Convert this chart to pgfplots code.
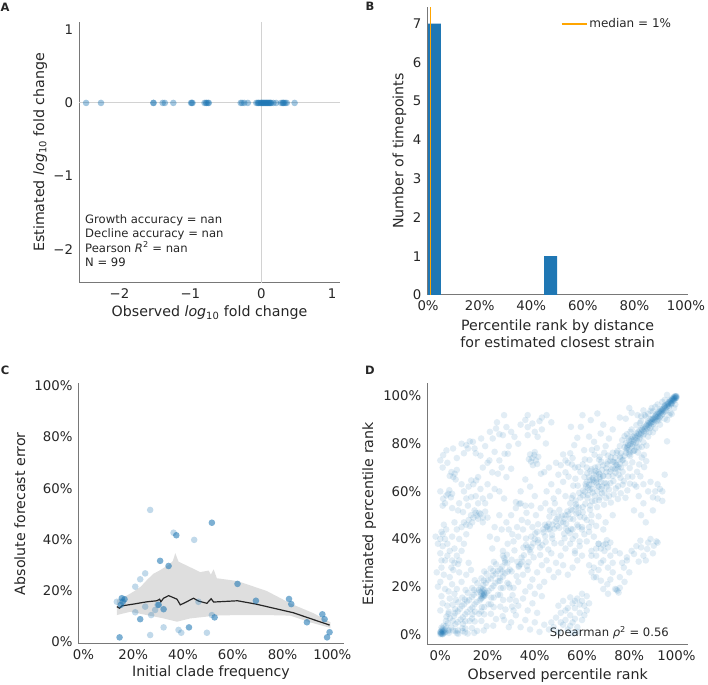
\documentclass[border=0pt]{standalone}
\usepackage{fontspec}
\setmainfont{DejaVu Sans}
\usepackage{pgfplots}
\pgfplotsset{compat=1.18}

\definecolor{c0}{RGB}{31,119,180}
\definecolor{txt}{RGB}{38,38,38}
\definecolor{spine}{RGB}{120,120,120}
\definecolor{refl}{RGB}{210,210,210}
\definecolor{band}{RGB}{222,222,222}
\definecolor{medc}{RGB}{255,165,0}

\newcommand{\tk}{\fontsize{13.3}{15}\selectfont}
\newcommand{\lb}{\fontsize{14.2}{16.5}\selectfont}
\newcommand{\an}{\fontsize{11.6}{14.3}\selectfont}

\pgfplotsset{
  panel/.style={
    scale only axis,
    anchor=south west,
    axis lines*=left,
    axis line style={draw=spine, line width=1pt, -},
    major tick length=0pt,
    tick label style={font=\tk, text=txt},
    xticklabel style={yshift=-2.5pt},
    yticklabel style={xshift=-2.5pt},
    label style={font=\lb, text=txt},
    /pgf/number format/assume math mode=true,
  },
  pct/.style={xtick={0,20,...,100}, xticklabels={0\%,20\%,40\%,60\%,80\%,100\%}},
  pcty/.style={ytick={0,20,...,100}, yticklabels={0\%,20\%,40\%,60\%,80\%,100\%}},
  dots/.style={only marks, mark=*, mark size=3.3pt,
    mark options={draw=c0, fill=c0, draw opacity=0, fill opacity=#1}},
}

\begin{document}
\begin{tikzpicture}
\path[use as bounding box] (0,0) rectangle (708pt,684pt);

% panel letters
\node[font=\bfseries\fontsize{11.5}{13}\selectfont, text=txt] at (5pt,677pt) {A};
\node[font=\bfseries\fontsize{11.5}{13}\selectfont, text=txt] at (370pt,678pt) {B};
\node[font=\bfseries\fontsize{11.5}{13}\selectfont, text=txt] at (5pt,314pt) {C};
\node[font=\bfseries\fontsize{11.5}{13}\selectfont, text=txt] at (370pt,314pt) {D};

% ---------------- A
\begin{axis}[panel, at={(79pt,401pt)}, width=261pt, height=261.3pt,
  xmin=-2.57, xmax=1.11, ymin=-2.46, ymax=1.11,
  xtick={-2,-1,0,1}, xticklabels={−2,−1,0,1},
  ytick={-2,-1,0,1}, yticklabels={−2,−1,0,1},
  xlabel={Observed \textit{log}\textsubscript{10} fold change},
  ylabel={Estimated \textit{log}\textsubscript{10} fold change},
  xlabel style={at={(axis description cs:0.5,-0.115)}, anchor=center},
  ylabel style={at={(axis description cs:-0.149,0.5)}, anchor=center},
]
\addplot[refl, line width=1pt] coordinates {(0,-2.46) (0,1.11)};
\addplot[refl, line width=1pt] coordinates {(-2.57,0) (1.11,0)};
\addplot[dots=0.42] coordinates {
  (-2.47,0)(-2.26,0)(-1.52,0)(-1.52,0)(-1.39,0)(-1.36,0)(-1.24,0)
  (-0.99,0)(-0.98,0)(-0.97,0)(-0.80,0)(-0.78,0)(-0.77,0)(-0.75,0)(-0.74,0)
  (-0.29,0)(-0.27,0)(-0.24,0)(-0.19,0)(-0.07,0)(-0.05,0)(-0.04,0)(-0.03,0)
  (-0.01,0)(0.00,0)(0.01,0)(0.02,0)(0.03,0)(0.04,0)(0.05,0)(0.06,0)(0.07,0)
  (0.08,0)(0.09,0)(0.10,0)(0.11,0)(0.12,0)(0.13,0)(0.14,0)(0.17,0)(0.21,0)
  (0.28,0)(0.30,0)(0.31,0)(0.32,0)(0.34,0)(0.36,0)(0.47,0)
};
\node[font=\an, text=txt, align=left, anchor=north west, inner sep=0pt]
  at (axis description cs:0.023,0.262)
  {Growth accuracy = nan\\Decline accuracy = nan\\Pearson \textit{R}\textsuperscript{2} = nan\\N = 99};
\end{axis}

% ---------------- B
\begin{axis}[panel, at={(427.3pt,389pt)}, width=260.7pt, height=288pt,
  xmin=-0.3, xmax=100.8, ymin=0, ymax=7.43,
  pct, ytick={0,...,7},
  ylabel={Number of timepoints},
  xlabel={Percentile rank by distance\\for estimated closest strain},
  xlabel style={align=center, at={(axis description cs:0.5,-0.135)}, anchor=center},
  ylabel style={at={(axis description cs:-0.107,0.5)}, anchor=center},
  legend style={draw=none, fill=none, font=\fontsize{12}{14}\selectfont, text=txt,
    at={(axis description cs:0.50,0.941)}, anchor=west},
  legend cell align=left,
  legend image code/.code={\draw[#1] (0pt,0pt) -- (25pt,0pt);},
]
\addplot[ybar, bar width=5, bar shift=0pt, fill=c0, draw=none, forget plot]
  coordinates {(2.5,7) (47.5,1)};
\addplot[medc, line width=1.5pt] coordinates {(1,0) (1,7.43)};
\addlegendentry{median = 1\%}
\end{axis}

% ---------------- C
\begin{axis}[panel, at={(78.5pt,40pt)}, width=265pt, height=260.7pt,
  xmin=-2, xmax=104.5, ymin=-0.9, ymax=101,
  pct, pcty,
  xlabel={Initial clade frequency},
  ylabel={Absolute forecast error},
  xlabel style={at={(axis description cs:0.5,-0.111)}, anchor=center},
  ylabel style={at={(axis description cs:-0.221,0.5)}, anchor=center},
]
\addplot[fill=band, draw=none] coordinates {
  (13.4,16.3)(17,17.8)(20,19.5)(23,21.5)(25.5,24.1)(28,26.5)(30.5,27.8)(34.2,30.0)
  (35.9,31.5)(36.9,34.6)(38.2,31.3)(42.9,29.1)(46.9,27.2)(50.3,27.8)(51.2,26.2)
  (52.3,28.3)(53.6,24.8)(61.9,23.7)(73.7,19.8)(83.5,14.8)(92.5,11.1)(99.2,7.6)
  (99.2,5.4)(91,7.6)(83.1,10.2)(73.7,10.4)(61.9,10.4)(52.3,10.2)(49.6,9.8)
  (42.9,9.1)(37.6,7.8)(32.2,9.1)(25.5,10.4)(18.8,11.7)(13.4,10.4)
};
\addplot[dots=0.28] coordinates {
  (26.8,51.5)(36.2,42.6)(44.5,39.8)(24.8,26.7)(22.8,24.4)(20.8,21.5)(13.4,15.6)
  (24.8,13.7)(20.8,11.5)(29.8,14.4)(27.2,10.4)(32.2,5.6)(26.8,2.6)(38.2,4.6)
  (39.3,3.5)(49.6,3.5)(51.6,10.4)(46.2,15.6)(28.8,12.4)
};
\addplot[dots=0.58] coordinates {
  (51.6,46.5)(37.3,41.6)(30.8,31.6)(34.2,29.6)(16.5,16.6)(15.8,15.6)(15.0,14.4)
  (15.4,17.0)(32.2,12.7)(22.8,8.8)(14.5,1.7)(42.4,5.6)(52.7,9.5)(30.2,14.4)
  (61.9,22.6)(69.3,16.0)(82.6,16.7)(83.5,14.7)(89.8,7.6)(96.0,10.7)(96.9,8.8)
  (98.9,3.7)(97.9,1.7)
};
\addplot[black!85, line width=1.2pt] coordinates {
  (13.4,13.7)(14.5,13.1)(15.4,14.0)(20.1,14.7)(25.5,15.6)(29.5,16.0)(30.6,16.6)
  (31.1,15.6)(32.2,17.0)(34.2,18.0)(36.2,17.2)(37.6,16.6)(38.9,14.4)(40.9,15.3)
  (44.2,17.0)(46.2,15.9)(49.6,15.0)(51.3,16.8)(52.3,15.5)(61.9,16.0)(69.3,14.7)
  (84.4,11.3)(89.8,9.5)(98.9,6.5)
};
\end{axis}

% ---------------- D
\begin{axis}[panel, at={(427.3pt,39pt)}, width=261pt, height=262pt,
  xmin=-5.5, xmax=105, ymin=-4.5, ymax=105.5,
  pct, pcty,
  xlabel={Observed percentile rank},
  ylabel={Estimated percentile rank},
  xlabel style={at={(axis description cs:0.5,-0.115)}, anchor=center},
  ylabel style={at={(axis description cs:-0.223,0.5)}, anchor=center},
]
\addplot[dots=0.13] coordinates {
  % top diagonal
  (100,100)(99.5,99.8)(99,99.4)(98.6,98.9)(99.2,98.2)(98,98.5)(97.5,97.9)(97,97.6)
  (97.8,96.5)(96.5,96.9)(96,96.4)(95.5,96.3)(96.8,95.2)(95,95.6)(94.5,94.8)(95.7,94)
  (94,94.6)(93.5,93.2)(93,93.8)(94.2,92.5)(92.5,93)(92,92.4)(91.5,92.6)(92.8,91)
  (91,91.5)(90.5,90.8)(91.6,89.6)(90,90.6)(89.5,89.8)(89,90.2)(90.3,88.4)(88.5,88.8)
  (88,89.3)(87.5,87.9)(88.8,86.6)(87,87.5)(86.5,86.2)(86,87)(87.2,85.2)(85.5,85.8)
  (85,84.6)(84.5,85.7)(85.8,83.4)(84,84.2)(83.5,83.3)(83,84.4)(84.3,82)(82.5,82.8)
  (82,81.6)(81.5,82.9)(82.8,80.3)(81,81.2)(80.5,80)(80,81.4)(81.2,78.9)(79.5,79.6)
  (79,78.2)(78.5,80.2)(79.8,77.3)(78,78.6)
  (99.8,99.2)(99.3,100)(98.8,99.6)(98.3,98)(97.2,98.4)(96.6,97.4)(97.9,97)(96.2,95.8)
  (95.3,95)(94.8,96)(93.8,93.7)(93.2,94.5)(94.6,93.4)(92.2,91.7)(91.3,92)(90.8,90)
  (89.8,89.2)(89.2,88.5)(88.2,87.4)(87.8,88.6)(86.8,86.8)(86.2,85.2)(85.2,86.4)(84.8,84)
  (83.8,85)(83.2,82.4)(82.2,83.4)(81.8,80.8)(80.8,82)(80.2,79.3)
  (99.6,99.5)(99.1,99)(98.4,98.6)(97.7,98)(97.3,97.2)(96.4,96.6)(95.9,95.3)(95.1,95.9)
  (94.3,94.2)(93.6,94)(92.9,92.7)(92.4,93.4)(91.8,91.2)(91.2,91.1)(90.2,90.3)(89.6,90.5)
  (89,89)(88.4,88)(99.9,99.7)(99.4,99.1)(98.9,98.7)(98.2,99.1)(100,99.3)(99.7,100)
  (97,92)(95,90.5)(99,95)(93,88)(91,86.4)(96,100.5)(92,96.5)(89,93.8)(87,91.5)(90,84.8)
  (88,83)(85,89.5)(86,80.6)(84,78.5)(83,87.8)(81,86)(82,77)(80,75.5)(79,84)(77,81.5)
  (78,75)(76,79)(77,73)(75,77)(74,74.2)(76,71.5)(73,76.2)(72,72.8)(75,69.5)(71,75)
  (97.5,93)(99.5,96.5)(94,97.6)(92.5,89.8)(89.5,95)(86.5,92)(88.5,84.8)(84.5,88.7)
  (83.5,81)(80.5,85)(79.5,82.5)(81.5,76.8)(78,83.2)(76.5,76)(74.5,72)
  (76,91)(78.5,90.5)(81,93)(83.5,92)(85,91.5)(80,95)(86,94)(88,92.5)(90,93.5)(93,91.5)
  (96,90)(98,92.5)(91,95.5)(95,98.4)(96,81)(95,67)(92,63)(93,61)(92,57)(94,60)(90,57.5)
  (66.5,92.7)(63.7,89.9)(60.2,92)(59.5,87.1)(55.3,87.1)(67.9,84.3)(71.4,82.2)(65.1,80.8)
  (60.9,77.3)(56.7,79.4)(69,88)(73,86)(70,79)(63,83)(58,82.5)
  (55.6,57.2)(57.3,56.1)(58.8,59.4)(60.4,58.3)(61.7,62.1)(63.2,60.6)(64.6,64.8)
  (66.1,63.7)(67.4,67.2)(68.9,66.4)(70.3,69.8)(71.8,68.2)(73.2,72.4)(74.6,71.1)
  (76.1,74.6)(77.4,73.3)(78.8,77.6)(80.2,76.4)(81.6,79.7)(83.1,78.6)(84.4,82.6)
  (86.2,84.1)(87.6,86.3)(89.3,87.2)(90.6,89.1)(92.3,90.4)(93.7,92.1)(95.2,93.6)
  (96.8,95.9)(98.1,97.2)(98.8,98.1)(97.6,96.8)
  % middle-upper cloud
  (62,64)(63,66)(64,63)(65,67)(66,65)(67,68)(68,64)(63.5,68.5)(65.5,70)(64.5,65.5)
  (66.5,62.5)(67.5,66)(62.5,61.5)(68.5,69)(69,66.5)(61,66)(63,62.8)(65,64.2)(66,67.5)
  (64,69.3)(67,62)(69.5,63.5)(61.5,63)(62.2,67.6)(68.2,61)(66.8,70.4)(64.3,61)
  (65.8,68.6)(63.3,64.7)(67.3,65.2)
  (55.3,52.4)(57.4,54.6)(56.2,58.3)(58.6,53.2)(59.3,57.4)(60.4,60.3)(58.2,62.4)
  (57.6,50.7)(60.3,51.2)(61.4,54.8)(62.3,57.2)(61.2,59.7)(63.4,52.3)(64.2,55.8)
  (65.3,58.2)(66.4,53.4)(67.2,56.3)(68.4,59.2)(69.3,54.4)(70.2,57.2)(71.4,60.8)
  (72.2,55.3)(73.4,58.7)(74.3,61.2)(75.2,56.8)(76.4,59.2)(77.2,62.8)(78.4,57.3)
  (79.2,60.4)(80.3,63.2)(70.4,63.3)(71.2,66.4)(72.4,69.2)(73.3,64.3)(74.2,67.8)
  (75.4,70.2)(76.3,65.7)(77.2,68.2)(78.3,71.8)(79.4,66.2)(80.2,69.8)(81.3,72.2)
  (70.7,71.4)(72.3,74.3)(74.7,76.2)(76.3,73.8)(78.6,76.2)(80.4,74.8)(82.3,77.2)
  (79.3,78.8)(60.3,71.3)(61.2,73.4)(59.3,68.2)(57.2,65.3)(58.4,70.2)(56.3,62.4)
  (54.3,66.2)(55.7,71.3)(63.2,73.2)(65.3,75.4)(67.2,73.3)(69.4,76.2)(68.2,72.4)
  (66.3,78.2)(64.2,77.4)(70.3,68.2)(73.7,72.3)(75.3,62.2)(77.7,64.3)(81.3,66.2)
  (82.2,62.8)(83.3,68.2)(84.2,71.3)(85.3,74.2)(86.2,75.3)(84.7,66.3)(86.3,70.2)
  (87.2,72.7)(83.7,76.3)(85.3,78.7)(87.3,79.2)
  (62.5,58.5)(64.5,59.5)(66.5,60)(68.5,62)(70.5,62)(72,63.5)(73,66.5)(74,69.5)(75.5,67)
  (76.5,70)(71.5,58)(69.5,59.5)(67.5,57.5)(65.5,56)(63.5,54)(71,72.5)(73,70)(69,71)
  (67.5,74.5)(62,70)
  (52,47)(55,48.5)(58,46)(61,49)(64,47)(67,49.5)(70,47)(73,50)(60,45)(63,43)(66,45.5)
  (69,44)(56,44)(53,50)(56,40)(59,37)(62,39)(65,41)(60,33)(64,35)(67,38)(57,34)
  % central band
  (25.3,22.4)(26.2,26.3)(27.4,30.2)(28.2,33.4)(29.4,27.2)(30.2,31.3)(31.4,35.2)
  (32.3,24.4)(33.2,28.3)(34.4,32.2)(35.2,36.4)(36.3,40.2)(37.4,30.3)(38.2,34.4)
  (39.3,38.2)(40.2,42.4)(41.4,46.2)(42.3,33.3)(43.2,37.4)(44.4,41.2)(45.3,45.3)
  (46.2,49.4)(47.4,40.2)(48.2,44.3)(49.3,48.4)(50.4,52.2)(51.2,38.3)(52.4,42.2)
  (53.3,46.4)(54.2,50.3)(55.4,44.2)(56.3,48.3)(57.2,41.4)(58.4,45.2)(59.2,49.3)
  (60.3,53.4)
  (26.5,35)(28.5,38)(30.5,42)(32.5,45)(34.5,48)(36.5,51)(38.5,54)(40.5,50)(42.5,53)
  (44.5,55)(46.5,52)(48.5,55)(29,21)(31,19.5)(33,22)(35,25)(37,27)(39,23)(41,26)(43,29)
  (45,31)(47,34)(49,30)(51,33)(53,36)(55,38)(57,35)(59,39)(61,42)(63,45)(62,48)(64,50)
  (60,44)(58,31)(56,28)(54,25)(52,29)(50,26)(48,24)(46,27)(44,22)(42,20)
  (27,32)(27.5,31)(26.5,33)(37,36.5)(36.3,37.5)(37.8,35.5)(45,45)(45.8,44)(44.3,46)
  (54,43.5)(53.2,44.5)(54.8,42.5)(34,29.5)(34.8,30.5)(33.3,28.8)(46,46.5)(43.5,44)
  (47.5,46)(40,40)(41.5,38.5)(38.5,41)(51,47)(49.5,45.5)(52.5,48.5)(56,52)(57.5,53.5)
  (58.5,51)(55,55)(50,49.5)(48,51)
  (35.4,33.2)(38.6,36.7)(41.3,39.6)(43.7,42.8)(46.4,44.1)(48.8,47.3)(51.5,49.8)
  (53.8,51.6)(42.2,36.4)(44.6,38.8)(47.3,41.7)(39.5,32.3)(36.7,28.6)(32.6,30.4)
  (30.2,26.4)(28.4,29.8)(50.4,44.7)(52.6,40.3)(48.3,38.2)(45.7,35.6)
  (22,36)(24,40)(23,45)(26,44)(28,47)(25,50)(30,50)(32,53)(34,55)(29,44)(31,39)(33,41)
  (35,44)(37,47)(39,45)(41,43)(36,54)(21,41)
  % lower-left band
  (0,0)(0.5,0.5)(1,1)(0.3,1.2)(1.2,0.3)(0.8,0.1)(0.1,0.8)(1.5,1.5)(0.6,1.8)(1.8,0.6)
  (2,2)(0.2,0.4)(1,0)(0,1)(0.4,0.2)(1.3,1)(0.9,1.4)(2.2,1)(1,2.4)(0.5,2.8)
  (2.3,3.4)(3.6,1.8)(3.1,4.6)(4.7,2.9)(5.2,5.6)(4.1,6.8)(6.4,4.3)(5.8,7.7)(7.3,5.1)
  (6.2,8.9)(8.6,6.2)(7.4,9.6)(9.5,7.1)(8.3,10.7)(10.6,8.4)(9.2,11.9)(11.4,9.3)
  (10.1,12.6)(12.7,10.5)(11.3,13.8)(13.6,11.2)(12.2,14.4)(14.5,12.6)(13.4,15.7)
  (15.3,13.5)(14.1,16.6)(16.7,14.2)(15.4,17.5)(17.2,14.9)(16.3,18.6)(18.5,16.3)
  (17.1,19.4)(19.6,17.4)(18.2,20.7)(20.4,18.2)(19.3,21.5)(21.7,19.4)(20.1,22.8)
  (22.5,20.3)(21.4,23.4)(23.3,21.6)(22.2,24.7)(24.6,22.3)(23.5,25.4)(25.2,23.7)
  (24.3,26.6)(26.5,24.2)(25.4,27.3)(27.3,25.6)(26.2,28.5)(28.6,26.3)
  (17.5,17)(18,16.5)(18.5,17.5)(17.8,18.2)(18.2,15.8)(17.2,16)(18.8,18.5)(17,17.8)
  (19,16.2)(18,19)(17.6,15.2)(18.6,16.8)
  (3.4,8.6)(5.2,12.4)(6.6,14.5)(9.3,15.4)(10.7,18.6)(13.5,19.4)(14.6,22.7)(17.4,23.5)
  (18.6,26.4)(21.3,27.6)(22.7,30.4)(9.4,2.6)(10.6,5.5)(13.4,6.6)(14.7,9.5)(17.3,9.6)
  (18.6,11.4)(21.4,12.6)(22.6,15.4)(25.3,16.5)(26.6,19.5)(29.4,19.6)(6.3,10.5)
  (7.6,13.4)(10.4,14.6)(11.6,17.4)(14.3,18.6)(15.7,21.4)(18.4,22.6)(19.6,25.4)
  (22.4,26.6)(23.6,29.4)(7.4,1.6)(9.6,4.4)(12.4,5.6)(13.6,8.4)(16.4,8.6)(17.6,11.4)
  (20.4,12.6)(21.6,15.4)(24.4,16.6)(25.6,19.4)(28.4,21.6)(2.4,5.6)(3.6,9.4)(1.4,3.6)
  (2.6,7.4)(5.4,1.6)(7,0.5)(9.4,1.4)(10.6,2.4)(13.4,2.6)(14.6,5.4)(17.4,5.6)(18.6,8.4)
  (21.4,8.6)(22.6,11.4)(25.4,11.6)(26.6,14.4)(29.4,14.6)(30.6,16.4)(30.4,11.6)
  (27.6,10.4)(26.4,7.6)(23.6,6.4)(22.4,3.6)(19.6,3.4)(18.4,1.6)(15.6,1.4)(14.4,0.6)
  (11.6,0.3)(10.4,0.8)(7.6,0.2)(6.4,1.4)(3.6,0.6)(3.4,1.4)
  (30,5)(32,8)(34,3)(36,6)(38,2)(40,5)(42,1)(44,4)(33,12)(35,15)(37,10)(39,13)(41,9)
  (43,16)(36,18)(38,20)(40,17)(32,14)(31,10)(27,6)(29,3)
  % left column
  (0,10)(1,13)(0.5,16)(2,19)(0,22)(1.5,25)(0.5,28)(2,31)(0,34)(1,37)(2,40)(0.5,43)
  (1.5,46)(3,12)(4,15)(3.5,18)(5,21)(4,24)(5.5,27)(4.7,28)(7.5,29.5)(4,35)(0.5,31)(3,38)
  (5,41)(2.5,44)(6,47)(7,44)(8,40)(6,36)(7,33)(8,26)(9,22)(7,19)(6,17)(-1,20)(-1.5,26)
  (-1,38)(-2,41)(0,40)(1,42)(3,33)(5,31)(6,30)(8,31)(9,35)(10,38)(11,42)(12,30)(13,27)
  (11,25)
  (12,48)(13,50)(14,49)(15,51)(16,48.5)(17,50.5)(18,49)(19,51.5)(14.5,52)(16.5,51)
  (13.5,47)(11,46)(18,47)(20,49)(15.5,49.8)(9,45)(10,47)(12.5,45.5)
  % upper-left scatter
  (3.3,59)(1.2,56.9)(2.6,58.3)(2,55)(3.8,60.5)(4.5,57.5)(1,54)(5,59)(0,60)
  (6.1,67.4)(4.7,68.1)(5.5,66)(7,69)(6.5,65)(4,66.5)
  (13.1,64.6)(15.2,64.6)(14,63)(16,66)(12,62)(10,60)(9,63)(11,57)(13.1,57.6)(15,58)
  (8,55)(19,55)(21,58)(17,61)(20,63)(23,61)(25,60)(27,57)
  (11.7,54)(7.5,52)(16,55)(9.6,51.3)(5,53)(18,57)
  (24.4,67.4)(30,69.5)(26,70)(22,68)(28,66)(18,70)(20,72)(23,76.6)(20.8,73)(27.2,75.8)
  (28.6,75.8)(25,73)(17,75)
  (2.6,77.2)(1.2,75.2)(5.4,78)(9,80)(11,79.4)(13.8,80.8)(17.3,82.2)(22.2,82.2)(11.7,78)
  (14.5,78)(12.5,81)(10,76)(7,74)(3,72)(1,70)(0,73)(15,76)(19,79)
  (23.6,86.4)(25,84)(26.5,83.6)(27,92)(28,87)(31.4,82.9)(34,88)(37,87)(37,92)(43,91)
  (43,86)(37,83.6)(41.2,82.9)(44.7,80.1)(30,85)(33,80)(29,79)(21,85)(24,89)(36,90)
  (39,88.5)(40,85)(47,89)(45,92)(42,89.5)
  (32,55.5)(33.5,54.8)(42.6,67.4)(44,68.1)(38,62)(36,65)(34,60)(40,58)(45,60)(47,63)
  (48,57)(50,60)(46,70)(50,67)(52,64)(53,58)(49,72)
  (38.4,72.5)(39.8,75.3)(39,74)(40.5,73)(41,71.5)(38,75.5)(40,76.5)(39.2,71)(41.5,74.5)
  (37.5,73.5)
  (51,71)(53,73)(55,76)(52,75.5)(54,72)(56,74)(57,70)(53,68)
  % lower right
  (48,3)(50,1)(52,4)(54,2)(56,5)(58,3)(60,6)(49,7)(51,9)(53,6)(55,8)(57,11)(59,9)
  (61,12)(50,12)(52,14)(54,11)(56,13)(58,15)(60,14)(62,10)(55,3.5)(57,6.5)(53,10)(51,5)
  (59,12.5)(57,14)(55,15.5)(61,8)(46,2)(47,5)(63,13)(60,17)(62,16)(56,0.5)(58,1)
  (68,36)(69,37.5)(70,38)(71,36.5)(72,38.5)(69.5,35)(70.5,39.5)(67,38)(66,33)(68,30)
  (65,28)(64,26)(66,24)(68,22.5)(70.7,21)(72,23)(74,19)(75,18.3)(75.5,17.5)(74.5,18.8)
  (76,19.5)(77.7,28)(79,32.3)(79,31)(77,30)(73,26)(71,28)(69,31)(67,27)(65,23.9)(63,29)
  (64,33)(66,36)(72,33)(74,35)(76,34)(73,30)(71,17)(69,19)(76,24)(78,22)(80,26)
  (84.7,39.3)(90.4,37.2)(87.6,35.8)(82,33.7)(85,36.5)(88,38.5)(86,33)(89,40)(91.5,39)
  (83,37)(87,31)(84,30.5)(90,34)(92,38.5)(81,35)
  (84,58)(86,55)(88,60)(85,50)(82,52)(90,52)(87,47)(94,56)(89,64)(83,62)(91,60)(86,63)
};
\node[font=\an, text=txt, anchor=east, inner sep=0pt] at (axis description cs:0.926,0.048)
  {Spearman \textit{ρ}\textsuperscript{2} = 0.56};
\end{axis}
\end{tikzpicture}
\end{document}
